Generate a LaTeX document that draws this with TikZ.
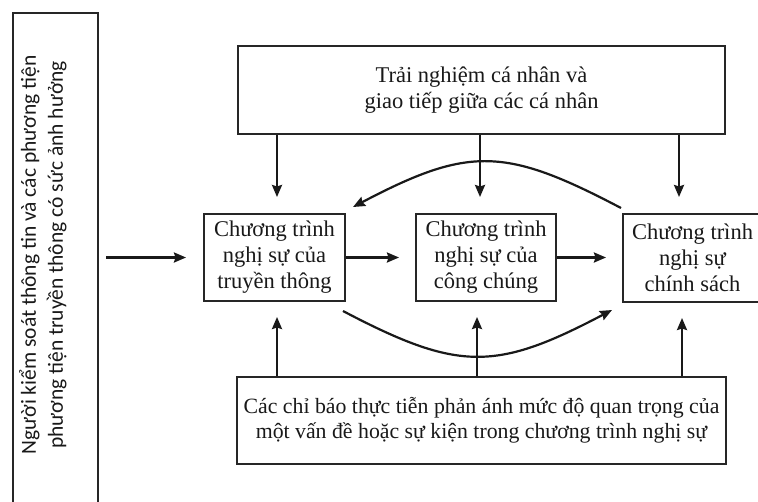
\documentclass[tikz,border=0pt]{standalone}
\usepackage{fontspec}
\setmainfont{Liberation Serif}
\newfontfamily\carlitofont{Carlito}
\usetikzlibrary{arrows.meta}
\begin{document}
\begin{tikzpicture}[x=1pt,y=-1pt,
  box/.style={draw=black!85, line width=2pt, align=center,
    font=\fontsize{22.5}{26}\selectfont, text=black!90, inner sep=0pt},
  arr/.style={-{Stealth[length=12pt,width=10pt,inset=1.5pt]}, line width=2.2pt, draw=black!90},
]
\useasboundingbox (0,0) rectangle (758,501);

% left box
\node[box, minimum width=85pt, minimum height=502pt] (lbox) at (55.5,264) {};
\node[rotate=90, font=\carlitofont\fontsize{21.5}{27}\selectfont, align=center, text=black!90]
  (ltext) at (43,255) {Người kiểm soát thông tin và các phương tiện\\phương tiện truyền thông có sức ảnh hưởng};

% top and bottom boxes
\node[box, minimum width=487pt, minimum height=88pt] (top) at (481.5,90)
  {Trải nghiệm cá nhân và\\giao tiếp giữa các cá nhân};
\node[box, minimum width=489pt, minimum height=87pt, font=\fontsize{21.8}{25}\selectfont] (bot) at (481.5,420.5)
  {Các chỉ báo thực tiễn phản ánh mức độ quan trọng của\\một vấn đề hoặc sự kiện trong chương trình nghị sự};

% middle boxes
\node[box, minimum width=141pt, minimum height=87pt] (m1) at (274.5,257.5)
  {Chương trình\\nghị sự của\\truyền thông};
\node[box, minimum width=140pt, minimum height=87pt] (m2) at (486,257.5)
  {Chương trình\\nghị sự của\\công chúng};
\node[box, minimum width=139pt, minimum height=88pt] (m3) at (692.5,258)
  {Chương trình\\nghị sự\\chính sách};

% x positions of vertical connectors
\coordinate (d1) at (277,0);
\coordinate (d2) at (480,0);
\coordinate (d3) at (679,0);
\coordinate (u1) at (277,0);
\coordinate (u2) at (477,0);
\coordinate (u3) at (682,0);

% horizontal arrows
\draw[arr, shorten <=7pt, shorten >=17pt] (lbox.east |- m1) -- (m1.west);
\draw[arr, shorten >=16pt] (m1.east) -- (m2.west);
\draw[arr, shorten >=16pt] (m2.east) -- (m3.west |- m2);

% down arrows
\draw[arr, shorten >=16pt] (top.south -| d1) -- (m1.north -| d1);
\draw[arr, shorten >=16pt] (top.south -| d2) -- (m2.north -| d2);
\draw[arr, shorten >=16pt] (top.south -| d3) -- (m3.north -| d3);

% up arrows
\draw[arr, shorten >=15pt] (bot.north -| u1) -- (m1.south -| u1);
\draw[arr, shorten >=15pt] (bot.north -| u2) -- (m2.south -| u2);
\draw[arr, shorten >=15pt] (bot.north -| u3) -- (m3.south -| u3);

% curved arrows
\draw[arr] ([shift={(-1,-5)}]m3.north west) .. controls +(-116,-61) and +(116,-61) .. ([shift={(7,-6)}]m1.north east);
\draw[arr] ([shift={(-3,9)}]m1.south east) .. controls +(116,61) and +(-116,61) .. ([shift={(-10,7)}]m3.south west);
\end{tikzpicture}
\end{document}
